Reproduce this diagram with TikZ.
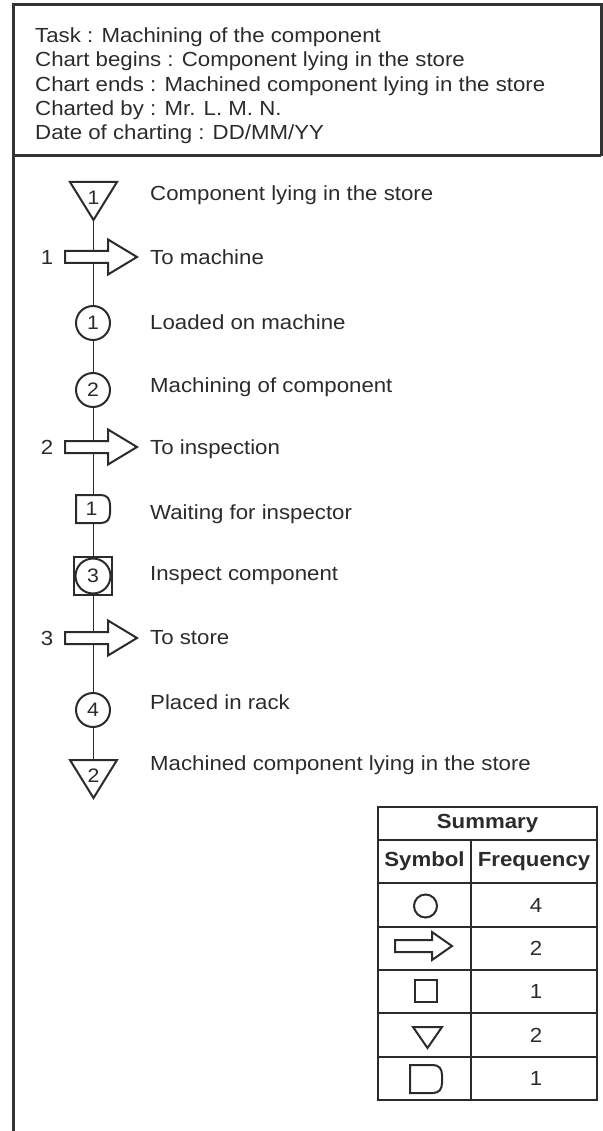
\documentclass[tikz,border=0pt]{standalone}
\usepackage{fontspec}
\setmainfont{Liberation Sans}[FakeStretch=1.09]
\usetikzlibrary{backgrounds}
\definecolor{ink}{HTML}{2B2B2B}
\definecolor{frame}{HTML}{333333}
\tikzset{
  txt/.style={anchor=base west, inner sep=0pt, text=ink, font=\fontsize{20.4}{24.4}\selectfont},
  num/.style={inner sep=0pt, text=ink, font=\fontsize{19.5}{20}\selectfont},
  sidenum/.style={inner sep=0pt, text=ink, font=\fontsize{20.4}{24.4}\selectfont},
  tcell/.style={inner sep=0pt, text=ink, font=\fontsize{20.4}{24.4}\selectfont},
  thead/.style={inner sep=0pt, text=ink, font=\fontsize{20.4}{24.4}\selectfont\bfseries},
  sym/.style={draw=ink, line width=2pt, fill=white, line join=miter},
  circsym/.style={circle, draw=ink, line width=2pt, fill=white, minimum size=34pt, inner sep=0pt, text=ink, font=\fontsize{19.5}{20}\selectfont},
  flowline/.style={draw=ink, line width=1.8pt},
  frameline/.style={draw=frame, line width=3pt},
  tabline/.style={draw=ink, line width=2.2pt},
  flowarrow/.pic={\draw[sym] (-28,-6) -- (15,-6) -- (15,-17.5) -- (44,0) -- (15,17.5) -- (15,6) -- (-28,6) -- cycle;}
}
\begin{document}
\begin{tikzpicture}[x=1pt,y=-1pt]
\useasboundingbox (0,0) rectangle (602,1131);
% frame
\draw[frameline] (13,1131) -- (13,5) -- (601,5) -- (601,156);
\draw[frameline] (13,156) -- (601,156);
% header
\node[txt] (h1) at (35,42.3) {Task : Machining of the component};
\node[txt] (h2) at (35,66.7) {Chart begins : Component lying in the store};
\node[txt] (h3) at (35,91.1) {Chart ends : Machined component lying in the store};
\node[txt] (h4) at (35,115.5) {Charted by : Mr. L. M. N.};
\node[txt] (h5) at (35,139.9) {Date of charting : DD/MM/YY};
% flow chart symbols
\coordinate (t1tip) at (93.5,220);
\coordinate (t2top) at (93.5,760);
\draw[flowline] (t1tip) -- (t2top);
% storage 1
\draw[sym] (70,182) -- (117,182) -- (t1tip) -- cycle;
\node[num] (t1) at (93.5,198) {1};
% transport 1
\pic at (93,257) {flowarrow};
\node[sidenum] (n1) at (47,257) {1};
% operations
\node[circsym] (c1) at (93,323) {1};
\node[circsym] (c2) at (93,390) {2};
% transport 2
\pic at (93,447) {flowarrow};
\node[sidenum] (n2) at (47,447) {2};
% delay
\draw[sym] (76,495) -- (101,495) .. controls (107,495) and (110,499) .. (110,505) -- (110,513) .. controls (110,519) and (107,523) .. (101,523) -- (76,523) -- cycle;
\node[num] (d1) at (91.5,509) {1};
% combined inspection
\draw[sym] (74,557) rectangle (112,595);
\node[circsym, minimum size=35pt] (s1) at (93,576) {3};
% transport 3
\pic at (93,638) {flowarrow};
\node[sidenum] (n3) at (47,638) {3};
% operation 4
\node[circsym] (c4) at (93,710) {4};
% storage 2
\draw[sym] (70,760) -- (117,760) -- (93.5,798) -- cycle;
\node[num] (t2) at (93.5,776) {2};
% labels
\node[txt] (l1) at (150,200.3) {Component lying in the store};
\node[txt] (l2) at (150,264.3) {To machine};
\node[txt] (l3) at (150,329.3) {Loaded on machine};
\node[txt] (l4) at (150,392.3) {Machining of component};
\node[txt] (l5) at (150,454.3) {To inspection};
\node[txt] (l6) at (150,519.3) {Waiting for inspector};
\node[txt] (l7) at (150,580.3) {Inspect component};
\node[txt] (l8) at (150,644.3) {To store};
\node[txt] (l9) at (150,709.3) {Placed in rack};
\node[txt] (l10) at (150,770.3) {Machined component lying in the store};
% summary table
\draw[tabline] (378,807) rectangle (597,1100);
\draw[tabline] (378,840) -- (597,840);
\draw[tabline] (378,883) -- (597,883);
\draw[tabline] (378,927) -- (597,927);
\draw[tabline] (378,970) -- (597,970);
\draw[tabline] (378,1013) -- (597,1013);
\draw[tabline] (378,1057) -- (597,1057);
\draw[tabline] (471,840) -- (471,1100);
\node[thead] (sum) at (487.5,823.5) {Summary};
\node[thead] (symh) at (424.5,861.5) {Symbol};
\node[thead] (freqh) at (534,861.5) {Frequency};
% table symbols
\draw[sym] (425.5,906) circle[radius=11.5];
\draw[sym] (395,940) -- (432,940) -- (432,932) -- (452,946) -- (432,960) -- (432,952) -- (395,952) -- cycle;
\draw[sym] (415,980) rectangle (437,1002);
\draw[sym] (413,1027) -- (442,1027) -- (427.5,1048) -- cycle;
\draw[sym] (410,1065) -- (433,1065) .. controls (439,1065) and (442,1069) .. (442,1075) -- (442,1083) .. controls (442,1089) and (439,1093) .. (433,1093) -- (410,1093) -- cycle;
% frequencies
\node[tcell] (f1) at (536,905) {4};
\node[tcell] (f2) at (536,948.5) {2};
\node[tcell] (f3) at (536,991.5) {1};
\node[tcell] (f4) at (536,1035) {2};
\node[tcell] (f5) at (536,1078.5) {1};
\end{tikzpicture}
\end{document}
